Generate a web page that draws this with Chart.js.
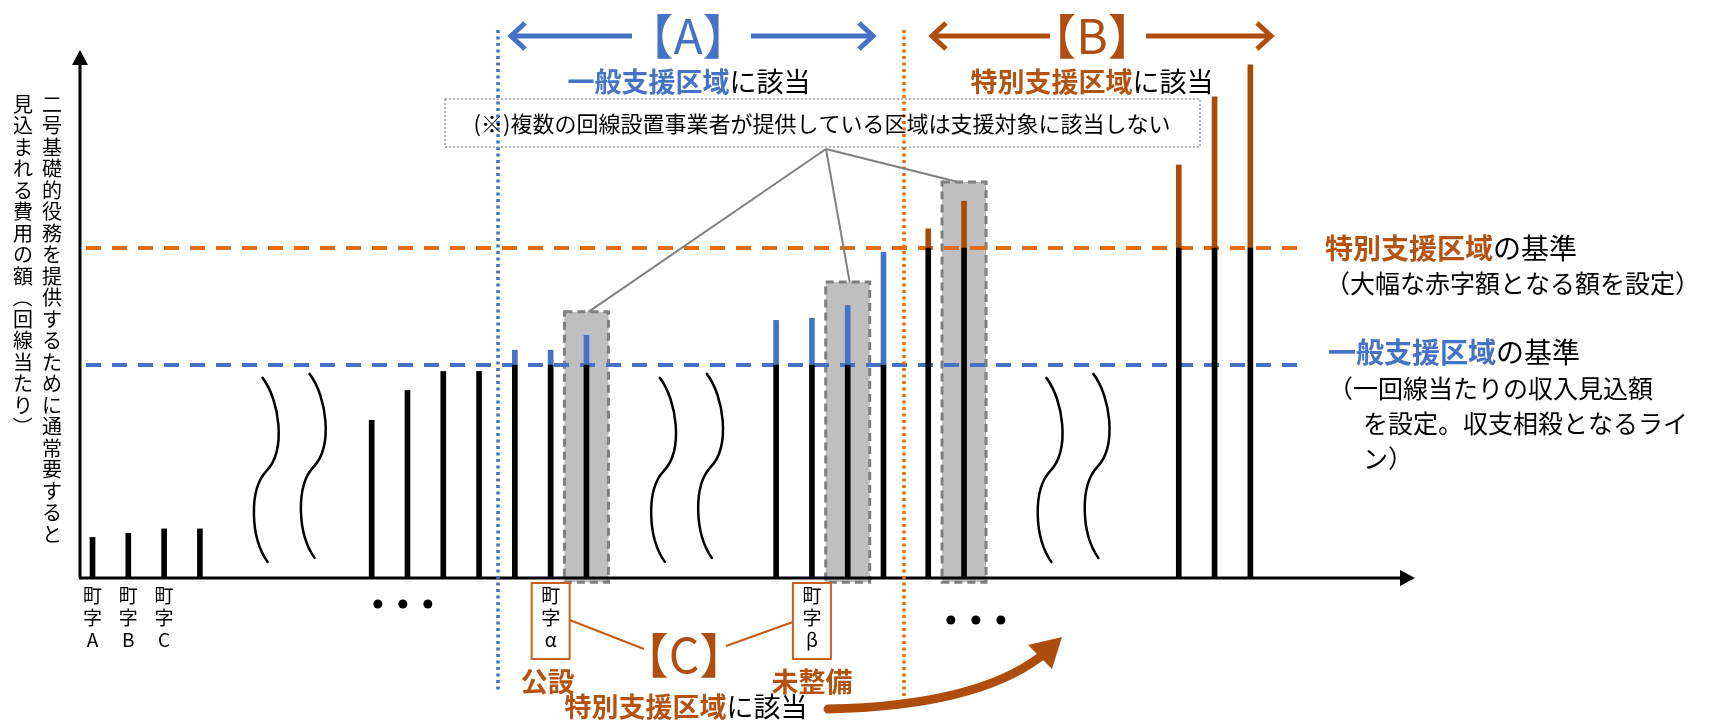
<!DOCTYPE html>
<html>
<head>
<meta charset="utf-8">
<script src="https://cdn.jsdelivr.net/npm/chart.js@4.4.1/dist/chart.umd.min.js"></script>
<style>
    html, body { margin: 0; padding: 0; background: #fff; }
</style>
</head>
<body>
<canvas id="grafico" width="1733" height="721"></canvas>
<script>
// posição de cada 町字 no eixo horizontal (unidades = espaçamento entre barras)
const posicoes = [0.35, 1.35, 2.35, 3.35, 8.15, 9.15, 10.15, 11.15, 12.15, 13.15, 14.15,
                  19.45, 20.45, 21.45, 22.45, 23.7, 24.7, 30.7, 31.7, 32.7];
// custo por linha (一般支援区域の基準 = 100)
const custos = [19, 21, 23, 23, 74, 88, 97, 97, 107, 107, 114,
                121, 122, 128, 153, 164, 177, 194, 226, 241];
const criterioGeral = 100;     // 一般支援区域の基準
const criterioEspecial = 155;  // 特別支援区域の基準
const inicioA = 11.68;         // começo da faixa 【A】
const inicioB = 23.02;         // começo da faixa 【B】

// rótulos do eixo x
const rotuloIdx = [0, 1, 2, 9, 12];
const rotuloTxt = ['A', 'B', 'C', 'α', 'β'];

// áreas sombreadas (区域 com vários 回線設置事業者)
const sombraIdx = [10, 13, 16];
const sombraTopo = [125, 139, 186];

const azul = '#4472C4';
const laranjaTexto = '#B4530F';
const laranjaLinha = '#E46C0A';
const marrom = '#A84B08';
const fonte = '"Noto Sans CJK JP", "Noto Sans", sans-serif';

// parte preta até o critério, parte colorida acima dele
let base = [];
let excedente = [];
let coresTopo = [];
for (let i = 0; i < custos.length; i++) {
    const lim = posicoes[i] < inicioB ? criterioGeral : criterioEspecial;
    const b = Math.min(custos[i], lim);
    base.push({ x: posicoes[i], y: b });
    excedente.push({ x: posicoes[i], y: custos[i] - b });
    coresTopo.push(posicoes[i] < inicioB ? azul : marrom);
}

function escreve(ctx, partes, x, y, tam, alinh) {
    let larguras = [];
    let total = 0;
    partes.forEach(function (p) {
        ctx.font = (p[2] ? 'bold ' : '') + tam + 'px ' + fonte;
        const w = ctx.measureText(p[0]).width;
        larguras.push(w);
        total += w;
    });
    let cx = alinh === 'center' ? x - total / 2 : x;
    ctx.textAlign = 'left';
    ctx.textBaseline = 'middle';
    partes.forEach(function (p, i) {
        ctx.font = (p[2] ? 'bold ' : '') + tam + 'px ' + fonte;
        ctx.fillStyle = p[1];
        ctx.fillText(p[0], cx, y);
        cx += larguras[i];
    });
}

function escreveVertical(ctx, texto, x, y0, passo, tam) {
    ctx.font = tam + 'px ' + fonte;
    ctx.textAlign = 'center';
    ctx.textBaseline = 'middle';
    ctx.fillStyle = '#000';
    [...texto].forEach(function (c, i) {
        const y = y0 + i * passo;
        if (c === '（' || c === '）') {
            ctx.save();
            ctx.translate(x, y);
            ctx.rotate(Math.PI / 2);
            ctx.fillText(c, 0, 0);
            ctx.restore();
        } else {
            ctx.fillText(c, x, y);
        }
    });
}

function onda(ctx, x, y) {
    ctx.beginPath();
    ctx.moveTo(x, y);
    ctx.bezierCurveTo(x + 17, y + 22, x + 24, y + 72, x + 4, y + 93);
    ctx.bezierCurveTo(x - 14, y + 112, x - 12, y + 160, x + 5, y + 184);
    ctx.stroke();
}

function seta(ctx, x1, x2, y, cor) {
    // linha com ponta aberta em x2
    const d = x2 > x1 ? 1 : -1;
    ctx.strokeStyle = cor;
    ctx.lineWidth = 5;
    ctx.lineCap = 'butt';
    ctx.lineJoin = 'miter';
    ctx.beginPath();
    ctx.moveTo(x1, y);
    ctx.lineTo(x2 - d * 2, y);
    ctx.stroke();
    ctx.beginPath();
    ctx.moveTo(x2 - d * 14, y - 13);
    ctx.lineTo(x2, y);
    ctx.lineTo(x2 - d * 14, y + 13);
    ctx.stroke();
}

const desenhos = {
    id: 'desenhos',
    beforeDatasetsDraw(chart) {
        const ctx = chart.ctx;
        const sx = chart.scales.x;
        const sy = chart.scales.y;
        const esq = sx.getPixelForValue(0);
        ctx.save();
        // áreas cinzas
        sombraIdx.forEach(function (idx, k) {
            const cx = sx.getPixelForValue(posicoes[idx]);
            const x0 = cx - 22, x1 = cx + 22;
            const y0 = sy.getPixelForValue(sombraTopo[k]);
            const y1 = sy.getPixelForValue(-2);
            ctx.fillStyle = '#BFBFBF';
            ctx.fillRect(x0, y0, x1 - x0, y1 - y0);
            ctx.setLineDash([8, 5]);
            ctx.lineWidth = 3;
            ctx.strokeStyle = '#7F7F7F';
            ctx.strokeRect(x0, y0, x1 - x0, y1 - y0);
        });
        // linhas dos critérios
        const fim = 1305;
        ctx.setLineDash([15, 11]);
        ctx.lineWidth = 4;
        ctx.strokeStyle = laranjaLinha;
        ctx.beginPath();
        ctx.moveTo(esq + 6, sy.getPixelForValue(criterioEspecial));
        ctx.lineTo(fim, sy.getPixelForValue(criterioEspecial));
        ctx.stroke();
        ctx.strokeStyle = azul;
        ctx.beginPath();
        ctx.moveTo(esq + 6, sy.getPixelForValue(criterioGeral));
        ctx.lineTo(fim, sy.getPixelForValue(criterioGeral));
        ctx.stroke();
        ctx.restore();
    },
    afterDatasetsDraw(chart) {
        const ctx = chart.ctx;
        const sx = chart.scales.x;
        const sy = chart.scales.y;
        const x0 = sx.getPixelForValue(0);
        const y0 = sy.getPixelForValue(0);
        const area = chart.chartArea;
        ctx.save();
        ctx.setLineDash([]);

        // eixos com setas
        ctx.strokeStyle = '#000';
        ctx.fillStyle = '#000';
        ctx.lineWidth = 3;
        ctx.beginPath();
        ctx.moveTo(x0, y0);
        ctx.lineTo(x0, area.top + 12);
        ctx.moveTo(x0 - 1, y0);
        ctx.lineTo(area.right - 12, y0);
        ctx.stroke();
        ctx.beginPath();
        ctx.moveTo(x0, area.top);
        ctx.lineTo(x0 - 8, area.top + 15);
        ctx.lineTo(x0 + 8, area.top + 15);
        ctx.closePath();
        ctx.fill();
        ctx.beginPath();
        ctx.moveTo(area.right, y0);
        ctx.lineTo(area.right - 15, y0 - 8);
        ctx.lineTo(area.right - 15, y0 + 8);
        ctx.closePath();
        ctx.fill();

        // ondas (trechos omitidos)
        ctx.lineWidth = 2.5;
        ctx.lineCap = 'round';
        const topoOnda = sy.getPixelForValue(94);
        [5.1, 16.2, 27.0].forEach(function (p) {
            const px = sx.getPixelForValue(p);
            onda(ctx, px, topoOnda);
            onda(ctx, px + 47, topoOnda - 4);
        });

        // reticências abaixo do eixo
        [[9.02, 26], [25.03, 42]].forEach(function (r) {
            const c = sx.getPixelForValue(r[0]);
            for (let k = -1; k <= 1; k++) {
                ctx.beginPath();
                ctx.arc(c + k * 25, y0 + r[1], 4.5, 0, Math.PI * 2);
                ctx.fill();
            }
        });

        // rótulos 町字
        rotuloIdx.forEach(function (idx, k) {
            const cx = sx.getPixelForValue(posicoes[idx]);
            ctx.font = '19px ' + fonte;
            ctx.fillStyle = '#000';
            ctx.textAlign = 'center';
            ctx.textBaseline = 'middle';
            ctx.fillText('町', cx, y0 + 18);
            ctx.fillText('字', cx, y0 + 40);
            ctx.fillText(rotuloTxt[k], cx, y0 + 62);
            if (k >= 3) {
                ctx.strokeStyle = '#C8621C';
                ctx.lineWidth = 2;
                ctx.strokeRect(cx - 19, y0 + 5, 38, 76);
            }
        });
        ctx.restore();
    },
    afterDraw(chart) {
        const ctx = chart.ctx;
        const sx = chart.scales.x;
        const sy = chart.scales.y;
        ctx.save();

        // linhas pontilhadas verticais
        ctx.lineWidth = 3.5;
        ctx.setLineDash([3, 3.5]);
        ctx.strokeStyle = azul;
        let px = Math.round(sx.getPixelForValue(inicioA));
        ctx.beginPath();
        ctx.moveTo(px, 30);
        ctx.lineTo(px, 692);
        ctx.stroke();
        ctx.strokeStyle = laranjaLinha;
        px = Math.round(sx.getPixelForValue(inicioB));
        ctx.beginPath();
        ctx.moveTo(px, 30);
        ctx.lineTo(px, 703);
        ctx.stroke();

        // caixa da observação
        ctx.setLineDash([2, 2]);
        ctx.lineWidth = 1.5;
        ctx.strokeStyle = '#9A9A9A';
        ctx.strokeRect(445, 99, 755, 48);
        ctx.setLineDash([]);
        escreve(ctx, [['(※)複数の回線設置事業者が提供している区域は支援対象に該当しない', '#000', false]], 822, 124, 22, 'center');

        // linhas de chamada
        ctx.strokeStyle = '#808080';
        ctx.lineWidth = 2;
        const ax = 826, ay = 149;
        sombraIdx.forEach(function (idx, k) {
            const cx = sx.getPixelForValue(posicoes[idx]);
            ctx.beginPath();
            ctx.moveTo(ax, ay);
            ctx.lineTo(cx + (k === 2 ? -6 : 2), sy.getPixelForValue(sombraTopo[k]));
            ctx.stroke();
        });

        // 【A】 e 【B】
        ctx.font = '48px ' + fonte;
        ctx.textAlign = 'center';
        ctx.textBaseline = 'middle';
        ctx.fillStyle = azul;
        ctx.fillText('【A】', 688, 36);
        seta(ctx, 632, 511, 36, azul);
        seta(ctx, 751, 873, 36, azul);
        ctx.fillStyle = '#AE4D0E';
        ctx.fillText('【B】', 1092, 36);
        seta(ctx, 1050, 932, 36, '#AE4D0E');
        seta(ctx, 1146, 1271, 36, '#AE4D0E');

        escreve(ctx, [['一般支援区域', azul, true], ['に該当', '#000', false]], 689, 82, 27, 'center');
        escreve(ctx, [['特別支援区域', laranjaTexto, true], ['に該当', '#000', false]], 1092, 82, 27, 'center');

        // textos à direita
        escreve(ctx, [['特別支援区域', laranjaTexto, true], ['の基準', '#000', false]], 1325, 248, 28, 'left');
        escreve(ctx, [['（大幅な赤字額となる額を設定）', '#000', false]], 1325, 283, 25, 'left');
        escreve(ctx, [['一般支援区域', azul, true], ['の基準', '#000', false]], 1328, 352, 28, 'left');
        escreve(ctx, [['（一回線当たりの収入見込額', '#000', false]], 1328, 388, 25, 'left');
        escreve(ctx, [['を設定。収支相殺となるライ', '#000', false]], 1363, 423, 25, 'left');
        escreve(ctx, [['ン）', '#000', false]], 1363, 458, 25, 'left');

        // título do eixo y (vertical)
        escreveVertical(ctx, '二号基礎的役務を提供するために通常要すると', 52, 104, 21.5, 20);
        escreveVertical(ctx, '見込まれる費用の額（回線当たり）', 23, 104, 21.5, 20);

        // 【C】 na parte de baixo
        const cxA = sx.getPixelForValue(posicoes[rotuloIdx[3]]);
        const cxB = sx.getPixelForValue(posicoes[rotuloIdx[4]]);
        ctx.strokeStyle = '#C55A11';
        ctx.lineWidth = 2;
        ctx.beginPath();
        ctx.moveTo(cxA + 19, 620);
        ctx.lineTo(644, 649);
        ctx.moveTo(726, 646);
        ctx.lineTo(cxB - 19, 622);
        ctx.stroke();
        ctx.font = '48px ' + fonte;
        ctx.textAlign = 'center';
        ctx.textBaseline = 'middle';
        ctx.fillStyle = '#AE4D0E';
        ctx.fillText('【C】', 684, 655);
        escreve(ctx, [['公設', laranjaTexto, true]], cxA - 3, 682, 27, 'center');
        escreve(ctx, [['未整備', laranjaTexto, true]], cxB, 682, 27, 'center');
        escreve(ctx, [['特別支援区域', laranjaTexto, true], ['に該当', '#000', false]], 686, 707, 27, 'center');

        // seta curva
        ctx.strokeStyle = '#AE4D0E';
        ctx.fillStyle = '#AE4D0E';
        ctx.lineWidth = 9;
        ctx.lineCap = 'round';
        ctx.beginPath();
        ctx.moveTo(828, 709);
        ctx.quadraticCurveTo(975, 706, 1040, 657);
        ctx.stroke();
        ctx.beginPath();
        ctx.moveTo(1062, 637);
        ctx.lineTo(1052, 669);
        ctx.lineTo(1028, 645);
        ctx.closePath();
        ctx.fill();

        ctx.restore();
    }
};

const grafico = document.getElementById('grafico');

new Chart(grafico, {
    type: 'bar',
    data: {
        datasets: [{
            label: '基準まで',
            data: base,
            backgroundColor: '#000',
            borderWidth: 0,
            barThickness: 5
        },
        {
            label: '基準超過',
            data: excedente,
            backgroundColor: coresTopo,
            borderWidth: 0,
            barThickness: 5
        }]
    },
    options: {
        responsive: false,
        animation: false,
        devicePixelRatio: 1,
        layout: {
            padding: { left: 80, top: 50, right: 318, bottom: 143 }
        },
        scales: {
            x: { type: 'linear', min: 0, max: 37.3, offset: false, stacked: true, display: false },
            y: { min: 0, max: 248, stacked: true, display: false }
        },
        plugins: {
            legend: { display: false },
            tooltip: { enabled: false }
        }
    },
    plugins: [desenhos]
});
</script>
</body>
</html>
